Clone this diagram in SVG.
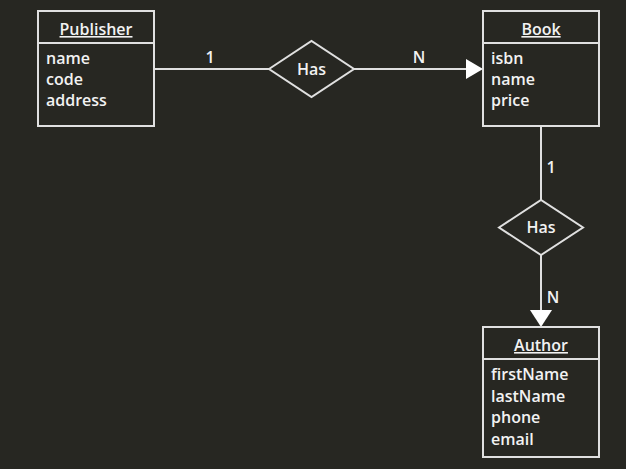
<svg xmlns="http://www.w3.org/2000/svg" width="626" height="469" viewBox="0 0 626 469">
<style>
.bg{fill:#272722}
.box{fill:#272722;stroke:#e0e0e0;stroke-width:2}
.sep{stroke:#e0e0e0;stroke-width:2}
.ln{stroke:#e0e0e0;stroke-width:2;fill:none}
.t{font-family:"Open Sans","Noto Sans",sans-serif;font-size:16px;font-weight:600;fill:#f2f2f2}
.h{text-anchor:middle;text-decoration:underline}
.c{text-anchor:middle}
.ah{fill:#ffffff}
</style>
<rect class="bg" x="0" y="0" width="626" height="469"/>
<g id="connectors">
<line class="ln" x1="154" y1="69" x2="269" y2="69"/>
<line class="ln" x1="354" y1="69" x2="467" y2="69"/>
<polygon class="ah" points="466,59 483,69 466,79"/>
<text class="t c" x="210" y="63">1</text>
<text class="t c" x="419" y="63">N</text>
<line class="ln" x1="541" y1="126" x2="541" y2="200"/>
<line class="ln" x1="541" y1="255" x2="541" y2="311"/>
<polygon class="ah" points="530,310 552,310 541,327"/>
<text class="t c" x="551" y="173">1</text>
<text class="t c" x="553" y="303">N</text>
</g>
<g id="publisher">
<rect class="box" x="38" y="11" width="116" height="115"/>
<line class="sep" x1="38" y1="43" x2="154" y2="43"/>
<text class="t h" x="96" y="35">Publisher</text>
<text class="t" x="46" y="64">name</text>
<text class="t" x="46" y="85">code</text>
<text class="t" x="46" y="106">address</text>
</g>
<g id="has1">
<polygon class="box" points="269,69 311.5,41 354,69 311.5,97"/>
<text class="t c" x="311.5" y="75">Has</text>
</g>
<g id="book">
<rect class="box" x="483" y="11" width="116" height="115"/>
<line class="sep" x1="483" y1="43" x2="599" y2="43"/>
<text class="t h" x="541" y="35">Book</text>
<text class="t" x="491" y="64">isbn</text>
<text class="t" x="491" y="85">name</text>
<text class="t" x="491" y="106">price</text>
</g>
<g id="has2">
<polygon class="box" points="499,227.5 541,200 583,227.5 541,255"/>
<text class="t c" x="541" y="233">Has</text>
</g>
<g id="author">
<rect class="box" x="483" y="327" width="116" height="130"/>
<line class="sep" x1="483" y1="359" x2="599" y2="359"/>
<text class="t h" x="541" y="351">Author</text>
<text class="t" x="491" y="380">firstName</text>
<text class="t" x="491" y="402">lastName</text>
<text class="t" x="491" y="423">phone</text>
<text class="t" x="491" y="445">email</text>
</g>
</svg>
